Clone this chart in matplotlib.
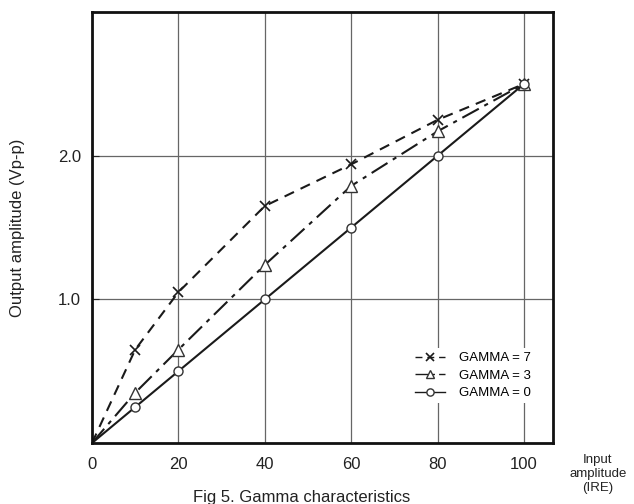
import matplotlib
matplotlib.use("Agg")
import matplotlib.pyplot as plt

plt.rcParams['font.family'] = ['Liberation Sans', 'DejaVu Sans']

x_in = [0, 10, 20, 40, 60, 80, 100]
gamma0 = [0, 0.25, 0.5, 1.0, 1.5, 2.0, 2.5]
gamma3 = [0, 0.35, 0.65, 1.24, 1.79, 2.17, 2.5]
gamma7 = [0, 0.65, 1.05, 1.65, 1.94, 2.25, 2.5]
xticks = [0, 20, 40, 60, 80, 100]
yticks = [1.0, 2.0]
ytick_labels = ["1.0", "2.0"]

fig = plt.figure(figsize=(6.34, 5.04), dpi=100)
ax = fig.add_axes([0.1451, 0.121, 0.8722 - 0.1451, 0.976 - 0.121])

c = '#1a1a1a'
l7, = ax.plot(x_in, gamma7, color=c, lw=1.5, ls=(0, (5, 3.5)), marker='x', ms=7,
              mew=1.2, markevery=list(range(1, 7)), label='GAMMA = 7')
l3, = ax.plot(x_in, gamma3, color=c, lw=1.5, ls=(0, (9, 3, 2, 3)), marker='^', ms=8,
              mfc='white', mec='#333333', mew=1.0, markevery=list(range(1, 7)),
              label='GAMMA = 3')
l0, = ax.plot(x_in, gamma0, color=c, lw=1.5, ls='-', marker='o', ms=6.5,
              mfc='white', mec='#333333', mew=1.0, markevery=list(range(1, 7)),
              label='GAMMA = 0')

ax.set_xlim(0, 106.7)
ax.set_ylim(0, 3.0)
ax.set_xticks(xticks)
ax.set_yticks(yticks)
ax.set_yticklabels(ytick_labels)
ax.tick_params(axis='both', labelsize=12, colors='#222222', length=0, pad=10)
ax.tick_params(axis='y', length=5, direction='in', pad=8)
ax.grid(True, color='#666666', lw=0.9)
ax.set_axisbelow(True)
for s in ax.spines.values():
    s.set_linewidth(2)
    s.set_color('#111111')

ax.set_ylabel('Output amplitude (Vp-p)', fontsize=12, color='#222222')
ax.yaxis.set_label_coords(-0.145, 0.5)

leg = ax.legend(handles=[l7, l3, l0], loc='lower right', bbox_to_anchor=(0.975, 0.077),
                frameon=True, fontsize=9.5, handlelength=2.2, handletextpad=1.1,
                labelspacing=0.4, borderpad=0.3, markerscale=0.8)
leg.get_frame().set_edgecolor('none')
leg.get_frame().set_facecolor('white')
leg.get_frame().set_alpha(1)
for h in leg.get_lines():
    h.set_linewidth(1.0)

fig.text(0.943, 0.0595, 'Input\namplitude\n(IRE)', ha='center', va='center',
         fontsize=9.5, color='#222222', linespacing=1.25)
fig.text(0.475, 0.012, 'Fig 5. Gamma characteristics', ha='center', va='center',
         fontsize=12, color='#222222')

fig.savefig('out.png', dpi=100)
